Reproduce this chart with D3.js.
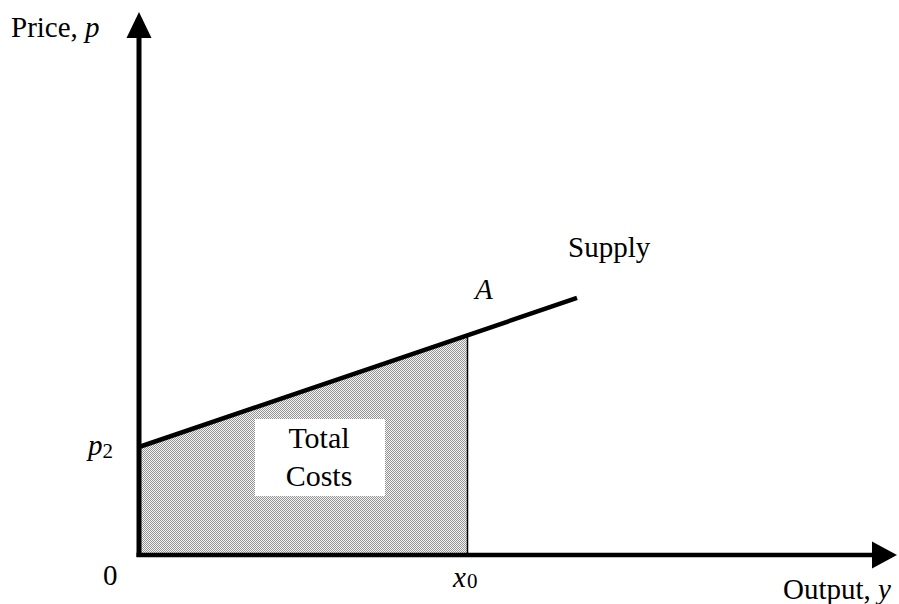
<!DOCTYPE html>
<html>
<head>
<meta charset="utf-8">
<script src="https://cdn.jsdelivr.net/npm/d3@7"></script>
<style>
  body { margin: 0; background: #fff; }
  text { font-family: "Liberation Serif", "Times New Roman", serif; fill: #000; }
</style>
</head>
<body>
<svg width="899" height="604"></svg>
<script>
// supply curve end points (output, price)
var supplyPts = [[0, 20], [60, 47.6]];
// shaded area under supply up to x0
var costArea = [[0, 0], [0, 20], [45, 40.7], [45, 0]];
var x0Value = 45;
var p2Value = 20;

var svg = d3.select("svg"),
    width = +svg.attr("width"),
    height = +svg.attr("height");

var x = d3.scaleLinear().domain([0, 100]).range([139, 869]);
var y = d3.scaleLinear().domain([0, 100]).range([555, 15]);

// dither pattern for the shaded region
var defs = svg.append("defs");
var pat = defs.append("pattern")
    .attr("id", "dots")
    .attr("width", 2).attr("height", 2)
    .attr("patternUnits", "userSpaceOnUse");
pat.append("rect").attr("width", 2).attr("height", 2).attr("fill", "#f6f6f6");
pat.append("rect").attr("x", 0).attr("y", 0).attr("width", 1).attr("height", 1).attr("fill", "#939393");
pat.append("rect").attr("x", 1).attr("y", 1).attr("width", 1).attr("height", 1).attr("fill", "#939393");

var line = d3.line()
    .x(function(d) { return x(d[0]); })
    .y(function(d) { return y(d[1]); });

svg.append("path")
    .datum(costArea)
    .attr("d", line.curve(d3.curveLinearClosed))
    .attr("fill", "url(#dots)")
    .attr("stroke", "none");

// vertical line at x0
svg.append("line")
    .attr("x1", x(x0Value)).attr("x2", x(x0Value))
    .attr("y1", y(0)).attr("y2", y(40.7))
    .attr("stroke", "#000").attr("stroke-width", 1.5);

// label box
svg.append("rect")
    .attr("x", 255).attr("y", 419).attr("width", 130).attr("height", 77)
    .attr("fill", "#fff");
svg.append("text").attr("x", 319).attr("y", 448).attr("text-anchor", "middle")
    .style("font-size", "30px").text("Total");
svg.append("text").attr("x", 319).attr("y", 486).attr("text-anchor", "middle")
    .style("font-size", "30px").text("Costs");

// supply line
svg.append("path")
    .datum(supplyPts)
    .attr("d", d3.line().x(function(d) { return x(d[0]); }).y(function(d) { return y(d[1]); }))
    .attr("fill", "none")
    .attr("stroke", "#000")
    .attr("stroke-width", 4.5);

// axes
svg.append("line")
    .attr("x1", x(0)).attr("x2", x(0))
    .attr("y1", y(0) + 2).attr("y2", 36)
    .attr("stroke", "#000").attr("stroke-width", 5);
svg.append("path")
    .attr("d", "M" + x(0) + ",12 L" + (x(0) - 12.5) + ",38 L" + (x(0) + 12.5) + ",38 Z")
    .attr("fill", "#000");

svg.append("line")
    .attr("x1", x(0) - 2.5).attr("x2", 874)
    .attr("y1", y(0)).attr("y2", y(0))
    .attr("stroke", "#000").attr("stroke-width", 4.5);
svg.append("path")
    .attr("d", "M897," + y(0) + " L872," + (y(0) - 13.5) + " L872," + (y(0) + 13.5) + " Z")
    .attr("fill", "#000");

// labels
var t1 = svg.append("text").attr("x", 11).attr("y", 37).style("font-size", "29px");
t1.append("tspan").text("Price, ");
t1.append("tspan").style("font-style", "italic").text("p");

var t2 = svg.append("text").attr("x", 783).attr("y", 599).style("font-size", "29px");
t2.append("tspan").text("Output, ");
t2.append("tspan").style("font-style", "italic").text("y");

svg.append("text").attr("x", 103).attr("y", 585).style("font-size", "29px").text("0");

var tp = svg.append("text").attr("x", 88).attr("y", 455).style("font-size", "29px");
tp.append("tspan").style("font-style", "italic").text("p");
tp.append("tspan").style("font-size", "21px").attr("dy", 3).text("2");

var tx = svg.append("text").attr("x", 453).attr("y", 587).style("font-size", "29px");
tx.append("tspan").style("font-style", "italic").text("x");
tx.append("tspan").style("font-size", "21px").attr("dx", 1).attr("dy", 1).text("0");

svg.append("text").attr("x", 475).attr("y", 299).style("font-size", "29px")
    .style("font-style", "italic").text("A");
svg.append("text").attr("x", 568).attr("y", 257).style("font-size", "29px").text("Supply");
</script>
</body>
</html>
